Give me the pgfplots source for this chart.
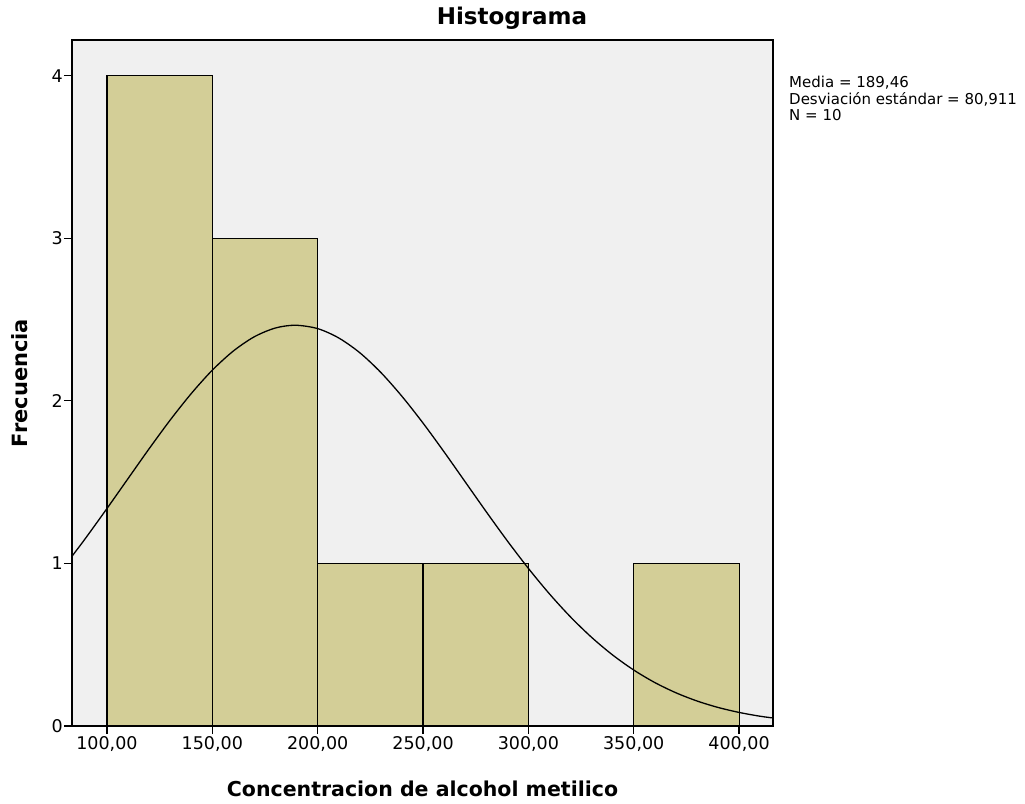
\documentclass[border=0pt]{standalone}
\usepackage{fontspec}
\setmainfont{DejaVu Sans}
\usepackage{pgfplots}
\pgfplotsset{compat=1.18}
\definecolor{barfill}{HTML}{D3CE97}
\definecolor{bgc}{HTML}{F0F0F0}
\begin{document}
\begin{tikzpicture}
\path[use as bounding box] (-72pt,-77pt) rectangle (953pt,726pt);
\begin{axis}[
  scale only axis,
  width=701pt, height=686pt,
  xmin=83.4, xmax=416.1,
  ymin=0, ymax=4.22,
  axis background/.style={fill=bgc},
  axis line style={line width=1.2pt, black},
  xtick={100,150,200,250,300,350,400},
  xticklabels={{100,00},{150,00},{200,00},{250,00},{300,00},{350,00},{400,00}},
  ytick={0,1,2,3,4},
  tick align=outside,
  tick pos=left,
  major tick length=8pt,
  tick style={line width=1.2pt, black},
  /pgf/number format/assume math mode=true,
  ticklabel style={font=\fontsize{17.5}{19}\selectfont},
  yticklabel style={inner sep=1pt},
  xticklabel style={inner sep=2pt},
  clip=true,
]
\addplot[ybar interval, fill=barfill, draw=black, line width=1.1pt]
  coordinates {(100,4) (150,3) (200,1) (250,1) (300,0) (350,1) (400,0)};
\addplot[black, line width=1.3pt, smooth] coordinates {
(83,1.0374) (90,1.158) (100,1.338) (110,1.522) (120,1.7055) (130,1.882)
(140,2.045) (150,2.189) (160,2.307) (170,2.395) (180,2.4485) (189.46,2.4653)
(200,2.4445) (210,2.387) (220,2.296) (230,2.1745) (240,2.028) (250,1.8634)
(260,1.686) (270,1.502) (280,1.318) (290,1.139) (300,0.9696) (310,0.8127)
(320,0.6709) (330,0.5454) (340,0.4367) (350,0.3443) (360,0.2673) (370,0.2045)
(380,0.1540) (390,0.1142) (400,0.0835) (410,0.0600) (417,0.0480)};
\end{axis}
\draw[black, line width=1.2pt] (0,0) rectangle (701pt,686pt);
\node[font=\bfseries\fontsize{23}{25}\selectfont] at (440pt,708pt) {Histograma};
\node[font=\bfseries\fontsize{20.5}{22}\selectfont] at (350.5pt,-63pt) {Concentracion de alcohol metilico};
\node[font=\bfseries\fontsize{21}{22}\selectfont, rotate=90] at (-52pt,343pt) {Frecuencia};
\node[anchor=north west, align=left, font=\fontsize{15}{16.5}\selectfont, inner sep=0pt] at (717pt,650pt)
  {Media = 189,46\\Desviación estándar = 80,911\\N = 10};
\end{tikzpicture}
\end{document}
